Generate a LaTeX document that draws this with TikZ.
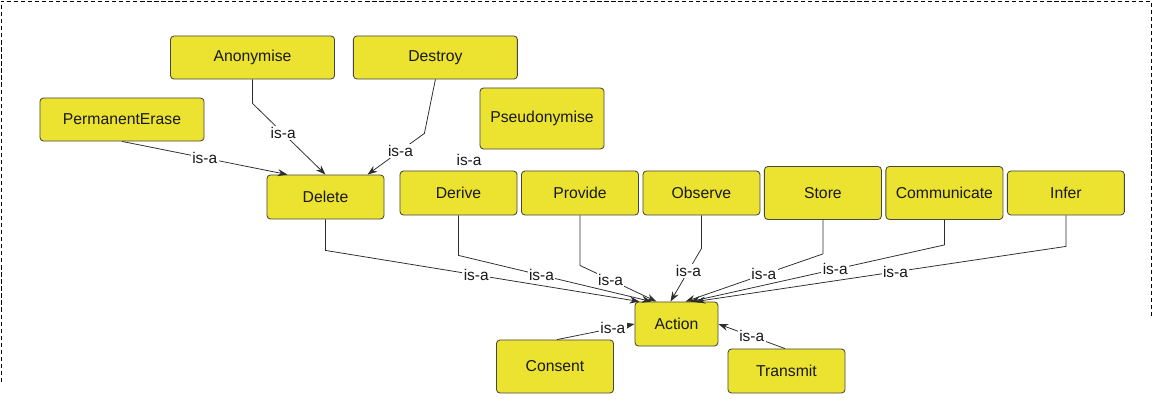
\documentclass[tikz,border=0pt]{standalone}
\usepackage{fontspec}
\setmainfont{Liberation Sans}
\usetikzlibrary{
  arrows.meta,
  positioning,
  calc
}
\definecolor{classyellow}{RGB}{236,227,48}
\definecolor{boxline}{RGB}{70,70,70}
\definecolor{edgegray}{RGB}{45,45,45}
\definecolor{textdark}{RGB}{25,25,25}
\tikzset{
  classbox/.style={
    draw=boxline, fill=classyellow, line width=0.6pt,
    rounded corners=2.5pt, minimum width=2.925cm,
    minimum height=1.1cm, align=center, inner sep=2pt,
    font=\fontsize{11.2}{13}\selectfont\color{textdark}
  },
  widebox/.style={
    classbox, minimum width=4.1cm, minimum height=1.075cm
  },
  tallbox/.style={
    classbox, minimum height=1.325cm
  },
  isaarrow/.style={
    -{Stealth[length=7pt,width=5pt]},
    draw=edgegray, line width=0.55pt
  },
  isalabel/.style={
    font=\fontsize{11}{13}\selectfont\color{textdark},
    fill=white, inner sep=1pt
  },
  pageframe/.style={
    draw=black, line width=0.7pt, dash pattern=on 3pt off 2pt
  },
}
\begin{document}
\begin{tikzpicture}[x=0.025cm, y=-0.025cm, node distance=0.09cm]

  \useasboundingbox (0,0) rectangle (1157,418);
  \draw[pageframe] (1,382) -- (1,1) -- (1151,1) -- (1151,318);

  %% Subclasses of Delete
  \node[widebox] (anon) at (252.5,57.5) {Anonymise};
  \node[widebox, right=0.45cm of anon] (destroy) {Destroy};
  \node[widebox] (perm) at (122,119.5) {PermanentErase};
  \node[classbox, minimum width=3.1cm, minimum height=1.525cm] (pseudo)
    at (542,118.5) {Pseudonymise};

  %% Subclasses of Action
  \node[classbox] (delete) at (325.5,197) {Delete};
  \node[classbox] (derive) at (458.5,193) {Derive};
  \node[classbox, right=of derive] (provide) {Provide};
  \node[classbox, right=of provide] (observe) {Observe};
  \node[tallbox, right=of observe] (store) {Store};
  \node[tallbox, right=of store] (comm) {Communicate};
  \node[classbox, right=of comm] (infer) {Infer};

  \node[classbox, minimum width=2.075cm] (action) at (676.5,324) {Action};
  \node[tallbox] (consent) at (555,366.5) {Consent};
  \node[classbox] (transmit) at (786.5,371) {Transmit};

  %% is-a into Delete
  \draw[isaarrow]
    (perm.south) -- ($(delete.north)+(-38,0)$)
    node[isalabel, pos=0.5] {is-a};
  \draw[isaarrow]
    (anon.south) -- ++(0,24) -- (delete.north)
    node[isalabel, pos=0.42] {is-a};
  \draw[isaarrow]
    (destroy.south) -- ++(-11,54) -- ($(delete.north)+(42,0)$)
    node[isalabel, pos=0.42] {is-a};
  \path (pseudo.south west) -- (derive.north)
    node[isalabel, pos=0.5] {is-a};

  %% is-a into Action
  \draw[isaarrow]
    (delete.south) -- ++(0,31) -- ($(action.north)+(-37,0)$)
    node[isalabel, pos=0.48] {is-a};
  \draw[isaarrow]
    (derive.south) -- ++(0,40) -- ($(action.north)+(-25,0)$)
    node[isalabel, pos=0.43] {is-a};
  \draw[isaarrow]
    (provide.south) -- ++(0,50) -- ($(action.north)+(-20,0)$)
    node[isalabel, pos=0.4] {is-a};
  \draw[isaarrow]
    (observe.south) -- ++(0,33) -- ($(action.north)+(-6,0)$)
    node[isalabel, pos=0.42] {is-a};
  \draw[isaarrow]
    (store.south) -- ++(0,34) -- ($(action.north)+(9,0)$)
    node[isalabel, pos=0.43] {is-a};
  \draw[isaarrow]
    (comm.south) -- ++(0,25) -- ($(action.north)+(14,0)$)
    node[isalabel, pos=0.43] {is-a};
  \draw[isaarrow]
    (infer.south) -- ++(0,31) -- ($(action.north)+(19,0)$)
    node[isalabel, pos=0.46] {is-a};
  \draw[isaarrow]
    ($(consent.north)+(2,0)$) -- (action.west)
    node[isalabel, pos=0.72] {is-a};
  \draw[isaarrow]
    ($(transmit.north)+(-1.5,0)$) -- (action.east)
    node[isalabel, pos=0.5] {is-a};

\end{tikzpicture}
\end{document}
